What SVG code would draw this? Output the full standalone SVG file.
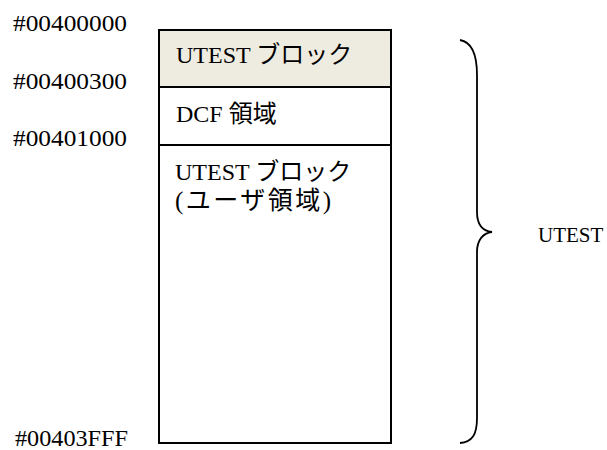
<svg xmlns="http://www.w3.org/2000/svg" width="607" height="450" viewBox="0 0 607 450">
<style>
.t{font-family:"Liberation Serif","Noto Sans CJK JP",serif;font-size:24px;fill:#000}
.box{stroke:#000;stroke-width:2;fill:#fff}
.sep{stroke:#000;stroke-width:2}
.brace{fill:none;stroke:#000;stroke-width:1.8}
</style>
<rect width="607" height="450" fill="#fff"/>
<g id="addresses">
<text class="t" x="13" y="31" textLength="114" lengthAdjust="spacingAndGlyphs">#00400000</text>
<text class="t" x="13" y="89" textLength="114" lengthAdjust="spacingAndGlyphs">#00400300</text>
<text class="t" x="13" y="146" textLength="114" lengthAdjust="spacingAndGlyphs">#00401000</text>
<text class="t" x="15" y="446" textLength="113" lengthAdjust="spacingAndGlyphs">#00403FFF</text>
</g>
<g id="memory">
<rect class="box" x="159" y="30" width="232" height="413"/>
<g id="block-header">
<rect x="160" y="31" width="230" height="56" fill="#eeece1"/>
<text class="t" x="176" y="63">UTEST ブロック</text>
</g>
<g id="block-dcf">
<text class="t" x="176" y="122">DCF 領域</text>
</g>
<g id="block-user">
<text class="t" x="175" y="180">UTEST ブロック</text>
<text class="t" x="175" y="209" style="font-size:25px;letter-spacing:2.5px">(ユーザ領域)</text>
</g>
<line class="sep" x1="159" y1="87" x2="391" y2="87"/>
<line class="sep" x1="159" y1="145" x2="391" y2="145"/>
</g>
<g id="brace">
<path class="brace" d="M460,40 C472,42 477,55 477,75 L477,212 C477,225 483,231 492,232 C483,233 477,240 477,252 L477,418 C477,435 472,442 460,443"/>
<text class="t" x="538" y="242" style="font-size:21px">UTEST</text>
</g>
</svg>
